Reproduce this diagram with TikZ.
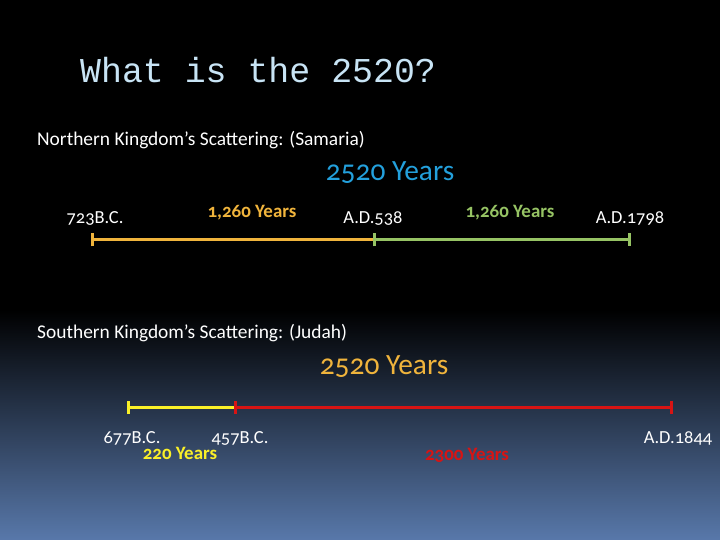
\documentclass[tikz,border=0pt]{standalone}
\usepackage{fontspec}
\setmainfont{Carlito}[Numbers=OldStyle]
\newfontfamily\titlefont{Liberation Mono}
\usetikzlibrary{arrows.meta,positioning}
\definecolor{titleblue}{RGB}{200,228,245}
\definecolor{skyblue}{RGB}{35,160,220}
\definecolor{barorange}{RGB}{240,180,60}
\definecolor{bargreen}{RGB}{150,195,100}
\definecolor{baryellow}{RGB}{250,240,40}
\definecolor{barred}{RGB}{215,20,20}
\definecolor{bottomblue}{RGB}{88,120,170}

\begin{document}
\begin{tikzpicture}[x=1bp, y=-1bp,
    head/.style={anchor=base west, inner sep=0pt, text=white, font=\fontsize{19.5}{23}\selectfont},
    total/.style={anchor=base, inner sep=0pt, font=\fontsize{29.5}{34}\selectfont},
    date/.style={anchor=base, inner sep=0pt, text=white, font=\fontsize{18.5}{22}\selectfont},
    span/.style={anchor=base, inner sep=0pt, font=\bfseries\fontsize{19}{22}\selectfont},
    seg/.style={line width=3bp},
    endtick/.tip={Bar[width=13bp]}
  ]
    % Background
    \fill[black] (0,0) rectangle (720,540);
    \shade[top color=black, bottom color=bottomblue] (0,310) rectangle (720,540);
    \useasboundingbox (0,0) rectangle (720,540);
    % Title
    \node[anchor=base west, inner sep=0pt, text=titleblue, font=\titlefont\fontsize{35}{40}\selectfont] (title) at (80,83) {What is the 2520?};

    % Northern kingdom
    \node[head] (north) at (37,146) {Northern Kingdom’s Scattering: (Samaria)};
    \node[total, text=skyblue] (ntotal) at (390,181) {2520 Years};
    \coordinate (n0) at (91,240);
    \coordinate (n1) at (373,240);
    \coordinate (n2) at (631,240);
    \node[date] (d723) at (95,224) {723B.C.};
    \node[date] (d538) at (373,224) {A.D.538};
    \node[date] (d1798) at (630,224) {A.D.1798};
    \node[span, text=barorange] (nfirst) at (252,218) {1,260 Years};
    \node[span, text=bargreen] (nsecond) at (510,218) {1,260 Years};
    \draw[seg, barorange, endtick-] (n0) -- (n1);
    \draw[seg, bargreen, endtick-endtick] (n1) -- (n2);

    % Southern kingdom
    \node[head] (south) at (37,338) {Southern Kingdom’s Scattering: (Judah)};
    \node[total, text=barorange] (stotal) at (384,374) {2520 Years};
    \coordinate (s0) at (127,407);
    \coordinate (s1) at (234,407);
    \coordinate (s2) at (673,407);
    \node[date] (d677) at (132,443) {677B.C.};
    \node[date] (d457) at (240,443) {457B.C.};
    \node[date] (d1844) at (678,443) {A.D.1844};
    \node[span, text=baryellow] (sfirst) at (180,459) {220 Years};
    \node[span, text=barred] (ssecond) at (467,460) {2300 Years};
    \draw[seg, baryellow, endtick-] (s0) -- (s1);
    \draw[seg, barred, endtick-endtick] (s1) -- (s2);
\end{tikzpicture}
\end{document}
